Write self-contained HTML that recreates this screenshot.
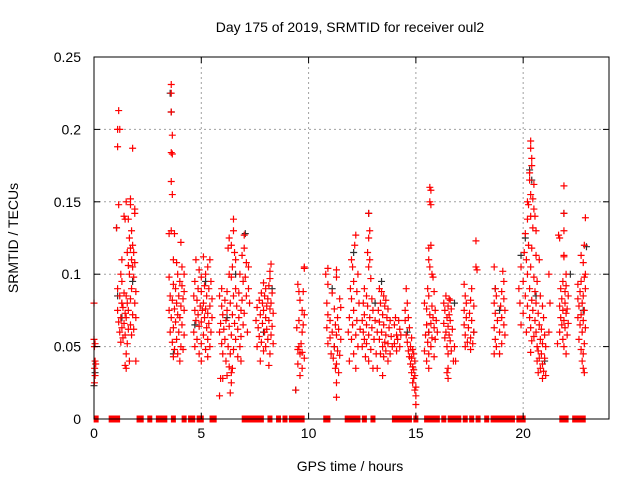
<!DOCTYPE html>
<html><head><meta charset="utf-8"><style>
body{margin:0;background:#fff;}
svg{display:block;font-family:"Liberation Sans",sans-serif;}
</style></head><body>
<svg id="chart" width="640" height="480">
<rect width="640" height="480" fill="#fff"/>
<g id="grid"></g>
<g id="pts"></g>
<rect x="94" y="57" width="515" height="362" fill="none" stroke="#000" stroke-width="1"/>
<g id="axes"></g>
<text x="350" y="32" text-anchor="middle" font-size="14">Day 175 of 2019, SRMTID for receiver oul2</text>
<text x="350" y="471" text-anchor="middle" font-size="14">GPS time / hours</text>
<text x="18" y="238" text-anchor="middle" font-size="14" transform="rotate(-90 18 238)">SRMTID / TECUs</text>
</svg>
<script>
const xTicks=[0,5,10,15,20];
const yTicks=[0,0.05,0.1,0.15,0.2,0.25];
const yTickLabels=["0","0.05","0.1","0.15","0.2","0.25"];
const zeroTimes=[0.1,0.8,0.9,1.0,1.1,2.1,2.2,2.6,3.0,3.2,3.3,3.7,4.2,4.5,4.6,4.9,5.0,5.5,5.6,7.0,7.1,7.3,7.5,7.7,7.8,8.2,8.6,8.9,9.2,9.4,9.6,9.7,10.8,10.9,11.8,11.9,12.0,12.1,12.3,12.6,13.0,14.0,14.1,14.3,14.4,14.5,14.7,15.0,15.5,15.6,15.7,15.8,16.0,16.3,16.6,16.8,17.0,17.3,17.6,17.9,18.3,18.6,18.8,19.0,19.2,19.4,19.5,19.8,20.0,21.8,21.9,22.0,22.4,22.6,22.7,22.8];
const blackPoints=[[0,0.023],[0.05,0.032],[1.05,0.132],[1.1,0.085],[1.3,0.07],[1.8,0.095],[3.55,0.225],[3.6,0.212],[3.7,0.045],[4.7,0.065],[5.2,0.095],[6.2,0.07],[6.6,0.1],[7.05,0.128],[7.9,0.06],[8.3,0.09],[9.4,0.02],[11.2,0.05],[11.1,0.09],[12.1,0.115],[12.8,0.142],[13.4,0.095],[13.1,0.08],[14.6,0.06],[15.6,0.06],[16.8,0.08],[17.7,0.06],[18.7,0.09],[18.9,0.075],[20.3,0.172],[20.4,0.165],[20.1,0.125],[20.6,0.085],[21.0,0.04],[21.9,0.142],[22.2,0.1],[22.95,0.119],[22.8,0.075],[19.9,0.113]];
const redPoints=[
[0,0.08],[0,0.055],[0.05,0.052],[0.02,0.05],[0.05,0.04],[0.08,0.038],[0.03,0.035],[0.05,0.03],[0.02,0.025],
[1.15,0.213],[1.1,0.2],[1.2,0.2],[1.1,0.188],[1.8,0.187],[1.15,0.148],[1.05,0.132],[1.5,0.15],[1.7,0.152],[1.7,0.148],[1.9,0.145],[1.9,0.142],[1.4,0.14],[1.45,0.138],[1.6,0.138],[1.75,0.13],[1.65,0.125],[1.8,0.12],[1.7,0.118],[1.85,0.115],[1.55,0.115],[1.3,0.11],[1.75,0.11],[1.9,0.108],[1.6,0.106],[1.8,0.105],[1.25,0.1],[1.65,0.1],[1.85,0.098],[1.3,0.095],[1.1,0.09],[1.75,0.09],[1.95,0.088],[1.4,0.087],[1.2,0.085],[1.5,0.085],[1.7,0.083],[1.3,0.08],[1.55,0.08],[1.9,0.08],[1.35,0.077],[1.1,0.075],[1.6,0.075],[1.45,0.073],[1.8,0.072],[1.25,0.07],[1.5,0.07],[1.95,0.07],[1.15,0.067],[1.4,0.066],[1.7,0.065],[1.3,0.063],[1.6,0.062],[1.85,0.062],[1.2,0.06],[1.45,0.058],[1.75,0.058],[1.35,0.056],[1.25,0.053],[1.55,0.052],[1.5,0.045],[1.65,0.04],[1.45,0.037],[1.5,0.035],[1.95,0.04],[1.3,0.08],
[3.6,0.231],[3.6,0.225],[3.6,0.212],[3.65,0.196],[3.6,0.184],[3.65,0.183],[3.6,0.164],[3.65,0.155],[3.6,0.13],[3.5,0.128],[3.75,0.128],[4.05,0.122],[3.7,0.11],[3.85,0.108],[4.1,0.105],[3.9,0.1],[4.2,0.1],[3.5,0.098],[4.0,0.095],[3.7,0.093],[4.1,0.092],[3.8,0.09],[4.2,0.088],[3.55,0.085],[3.95,0.085],[4.15,0.083],[3.65,0.082],[3.85,0.08],[4.05,0.078],[3.75,0.076],[3.5,0.075],[4.2,0.075],[3.9,0.072],[3.6,0.07],[4.0,0.07],[3.8,0.067],[4.1,0.065],[3.7,0.063],[3.55,0.06],[3.95,0.06],[4.2,0.058],[3.85,0.055],[3.65,0.053],[4.05,0.05],[3.75,0.048],[4.15,0.048],[3.9,0.045],[4.0,0.04],[3.7,0.043],
[4.75,0.11],[5.1,0.112],[5.4,0.11],[5.3,0.105],[4.9,0.103],[5.2,0.1],[5.0,0.098],[4.7,0.095],[5.45,0.095],[5.15,0.092],[4.85,0.09],[5.35,0.09],[5.0,0.088],[4.65,0.085],[5.25,0.085],[5.5,0.083],[4.8,0.082],[5.1,0.08],[4.95,0.078],[5.4,0.078],[5.2,0.076],[4.7,0.075],[5.05,0.075],[5.3,0.073],[4.85,0.072],[5.5,0.07],[5.15,0.07],[4.75,0.068],[5.0,0.067],[5.35,0.066],[4.9,0.064],[5.25,0.063],[4.65,0.06],[5.45,0.06],[5.1,0.058],[4.8,0.055],[5.3,0.055],[5.0,0.052],[4.7,0.05],[5.4,0.05],[5.2,0.048],[4.9,0.045],[5.3,0.043],[5.0,0.04],
[6.5,0.138],[6.5,0.13],[7.0,0.127],[6.3,0.125],[6.4,0.12],[6.25,0.118],[7.0,0.118],[6.55,0.115],[6.9,0.113],[6.6,0.11],[7.1,0.108],[6.45,0.105],[7.2,0.105],[6.3,0.1],[6.8,0.1],[7.05,0.098],[6.4,0.098],[6.95,0.095],[5.95,0.09],[6.6,0.09],[7.2,0.09],[6.2,0.088],[6.75,0.087],[5.85,0.085],[6.5,0.085],[7.1,0.085],[6.1,0.082],[6.9,0.082],[6.35,0.08],[7.25,0.08],[5.95,0.078],[6.65,0.078],[6.2,0.075],[6.85,0.075],[7.0,0.073],[6.0,0.072],[6.45,0.072],[6.75,0.07],[6.15,0.068],[5.9,0.066],[6.55,0.066],[6.95,0.065],[6.3,0.064],[6.05,0.062],[6.7,0.062],[7.15,0.06],[5.85,0.06],[6.4,0.058],[6.85,0.057],[6.1,0.055],[6.6,0.055],[5.95,0.052],[6.25,0.05],[6.8,0.05],[6.5,0.048],[6.0,0.045],[6.35,0.045],[6.7,0.043],[6.15,0.04],[6.85,0.04],[6.3,0.036],[6.45,0.035],[6.4,0.032],[6.2,0.03],[5.9,0.028],[6.0,0.028],[6.4,0.025],[5.85,0.016],[6.35,0.018],
[8.25,0.107],[8.2,0.102],[8.2,0.097],[7.9,0.094],[8.15,0.092],[8.0,0.09],[7.8,0.087],[8.3,0.087],[7.95,0.085],[8.1,0.083],[7.7,0.082],[8.25,0.08],[7.85,0.08],[8.05,0.078],[7.6,0.077],[8.2,0.076],[7.9,0.075],[8.35,0.073],[7.75,0.072],[8.0,0.07],[7.55,0.068],[8.15,0.068],[7.85,0.066],[8.3,0.064],[7.65,0.063],[8.05,0.062],[7.95,0.06],[8.25,0.058],[7.7,0.057],[8.1,0.055],[7.8,0.053],[8.35,0.052],[7.6,0.05],[8.0,0.05],[7.9,0.047],[8.2,0.045],[7.75,0.04],[8.15,0.037],
[9.8,0.105],[9.8,0.104],[9.5,0.093],[9.75,0.088],[9.55,0.088],[9.6,0.082],[9.7,0.075],[9.8,0.072],[9.55,0.068],[9.75,0.065],[9.45,0.063],[9.7,0.06],[9.55,0.05],[9.65,0.052],[9.5,0.048],[9.7,0.046],[9.6,0.045],[9.8,0.042],[9.5,0.038],[9.7,0.035],[9.6,0.03],[9.4,0.02],
[10.9,0.104],[11.3,0.103],[10.8,0.1],[11.3,0.098],[10.9,0.093],[11.1,0.087],[11.45,0.083],[10.85,0.08],[11.5,0.077],[11.2,0.076],[10.9,0.072],[11.35,0.07],[11.0,0.068],[11.25,0.065],[10.85,0.063],[11.4,0.062],[11.1,0.06],[11.3,0.058],[11.0,0.056],[11.5,0.055],[10.9,0.052],[11.2,0.05],[11.35,0.047],[11.05,0.045],[11.45,0.044],[11.15,0.042],[11.3,0.038],[11.25,0.035],[11.4,0.032],[11.3,0.025],[11.3,0.015],
[12.0,0.11],[12.05,0.105],[12.15,0.12],[12.2,0.127],[12.3,0.1],[12.1,0.095],[11.95,0.09],[12.25,0.088],[12.0,0.083],[12.35,0.08],[12.1,0.075],[11.9,0.07],[12.25,0.068],[12.05,0.065],[12.4,0.062],[11.85,0.06],[12.2,0.058],[12.0,0.055],[12.3,0.05],[12.1,0.045],[11.9,0.04],[12.2,0.035],
[12.8,0.142],[12.85,0.13],[12.8,0.125],[12.75,0.115],[12.85,0.11],[12.8,0.105],[12.9,0.097],[12.6,0.09],[12.7,0.085],[12.95,0.083],[12.55,0.08],[12.75,0.078],[13.0,0.075],[12.6,0.072],[12.85,0.07],[12.5,0.068],[13.1,0.068],[12.7,0.065],[12.95,0.063],[12.55,0.06],[13.2,0.06],[12.8,0.058],[12.6,0.055],[13.05,0.055],[12.7,0.052],[12.5,0.05],[12.9,0.048],[13.15,0.045],[12.65,0.043],[12.8,0.04],[13.0,0.035],
[13.3,0.09],[13.4,0.088],[13.5,0.085],[13.6,0.082],[13.35,0.08],[13.55,0.078],[13.7,0.076],[13.25,0.075],[13.45,0.072],[13.65,0.07],[13.8,0.068],[13.3,0.067],[13.5,0.065],[13.75,0.063],[13.4,0.06],[13.6,0.058],[13.85,0.057],[13.3,0.055],[13.55,0.053],[13.7,0.052],[13.45,0.05],[13.9,0.05],[13.6,0.047],[13.35,0.045],[13.8,0.045],[13.5,0.043],[13.7,0.04],[13.2,0.035],[13.45,0.03],
[14.05,0.07],[14.2,0.068],[14.0,0.065],[14.25,0.062],[14.1,0.058],[14.3,0.058],[14.15,0.055],[14.0,0.052],[14.25,0.05],[14.1,0.047],
[14.55,0.09],[14.6,0.08],[14.5,0.075],[14.65,0.07],[14.5,0.068],[14.7,0.063],[14.55,0.058],[14.8,0.056],[14.6,0.053],[14.75,0.05],[14.85,0.048],[14.65,0.047],[14.9,0.045],[14.7,0.043],[14.8,0.042],[14.95,0.04],[14.75,0.038],[14.85,0.036],[14.9,0.034],[14.8,0.032],[14.95,0.03],[14.9,0.028],[14.85,0.025],[15.0,0.022],[14.95,0.02],[15.0,0.016],[15.0,0.01],
[15.65,0.16],[15.7,0.158],[15.65,0.15],[15.7,0.148],[15.7,0.12],[15.6,0.118],[15.6,0.11],[15.65,0.105],[15.75,0.1],[15.8,0.098],[15.55,0.09],[15.85,0.088],[15.6,0.085],[15.4,0.08],[15.75,0.078],[15.5,0.076],[15.9,0.075],[15.65,0.072],[15.8,0.07],[15.95,0.068],[15.7,0.066],[15.5,0.065],[15.85,0.063],[15.6,0.06],[16.0,0.06],[15.45,0.058],[15.75,0.056],[15.9,0.055],[15.55,0.053],[15.7,0.05],[15.4,0.047],[15.6,0.045],[15.85,0.043],[15.5,0.04],[15.6,0.035],
[16.4,0.085],[16.55,0.083],[16.6,0.082],[16.3,0.08],[16.5,0.078],[16.65,0.076],[16.35,0.075],[16.55,0.072],[16.45,0.07],[16.6,0.068],[16.3,0.066],[16.5,0.064],[16.7,0.062],[16.4,0.06],[16.55,0.058],[16.35,0.056],[16.6,0.054],[16.45,0.05],[16.8,0.05],[16.65,0.047],[16.5,0.045],[16.75,0.04],[16.85,0.04],[16.5,0.035],[16.45,0.032],[16.5,0.028],
[17.8,0.123],[17.8,0.105],[17.85,0.103],[17.25,0.093],[17.6,0.09],[17.3,0.085],[17.55,0.082],[17.35,0.08],[17.7,0.078],[17.25,0.075],[17.5,0.073],[17.35,0.07],[17.6,0.068],[17.25,0.065],[17.45,0.063],[17.7,0.06],[17.3,0.058],[17.55,0.056],[17.4,0.053],[17.65,0.052],[17.3,0.05],[17.55,0.048],
[19.05,0.102],[18.65,0.105],[19.1,0.095],[18.7,0.09],[19.0,0.088],[18.75,0.085],[19.1,0.083],[18.65,0.08],[18.95,0.078],[19.15,0.075],[18.7,0.073],[19.0,0.07],[18.8,0.068],[19.1,0.065],[18.65,0.063],[18.9,0.06],[19.15,0.058],[18.7,0.055],[19.0,0.052],[18.75,0.05],[18.65,0.045],[18.9,0.045],
[20.35,0.192],[20.35,0.187],[20.4,0.18],[20.4,0.175],[20.3,0.17],[20.3,0.165],[20.5,0.162],[20.35,0.155],[20.45,0.152],[20.2,0.15],[20.25,0.148],[20.5,0.145],[20.35,0.14],[20.55,0.14],[20.2,0.138],[20.1,0.128],[20.45,0.132],[20.6,0.13],[20.25,0.12],[20.4,0.118],[20.05,0.115],[20.6,0.113],[20.15,0.11],[20.35,0.105],[20.75,0.11],[19.9,0.105],[20.2,0.1],[20.5,0.098],[20.0,0.095],[20.65,0.095],[20.3,0.09],[19.8,0.09],[20.55,0.088],[20.1,0.085],[20.8,0.085],[20.4,0.082],[19.85,0.08],[20.6,0.08],[20.2,0.078],[20.9,0.078],[20.45,0.075],[20.0,0.073],[20.7,0.073],[20.3,0.07],[20.95,0.07],[20.55,0.068],[19.9,0.065],[20.75,0.065],[20.35,0.063],[20.85,0.062],[20.6,0.06],[20.15,0.06],[21.0,0.058],[20.5,0.057],[20.8,0.055],[20.4,0.054],[20.9,0.052],[20.65,0.05],[21.05,0.05],[20.7,0.047],[20.35,0.046],[20.85,0.045],[20.75,0.042],[21.0,0.042],[20.65,0.04],[20.9,0.038],[20.8,0.035],[20.95,0.033],[20.7,0.032],[21.05,0.03],[20.9,0.028],[21.2,0.1],[21.25,0.08],[21.2,0.06],
[21.9,0.161],[21.9,0.142],[21.9,0.13],[21.9,0.113],[21.9,0.112],[21.7,0.125],[21.65,0.127],[22.0,0.1],[21.85,0.095],[22.0,0.092],[21.75,0.09],[21.95,0.088],[22.1,0.085],[21.8,0.083],[21.95,0.08],[21.7,0.078],[22.05,0.076],[21.85,0.075],[22.0,0.073],[21.75,0.07],[21.9,0.068],[22.1,0.066],[21.8,0.065],[21.95,0.063],[21.7,0.06],[22.05,0.058],[21.85,0.055],[21.6,0.052],[21.9,0.05],[22.0,0.045],
[22.9,0.139],[22.85,0.12],[22.7,0.113],[22.8,0.108],[22.9,0.1],[22.85,0.098],[22.7,0.095],[22.55,0.093],[22.9,0.09],[22.65,0.088],[22.8,0.085],[22.55,0.083],[22.75,0.08],[22.6,0.078],[22.85,0.075],[22.7,0.072],[22.55,0.07],[22.8,0.068],[22.65,0.065],[22.9,0.063],[22.75,0.06],[22.6,0.055],[22.85,0.052],[22.7,0.048],[22.8,0.045],[22.75,0.04],[22.8,0.035],[22.85,0.032]
];
const NS='http://www.w3.org/2000/svg';
const X0=94,X1=609,Y0=419,Y1=57,XMAX=24,YMAX=0.25;
function xs(t){return X0+(X1-X0)*t/XMAX;}
function ys(v){return Y0-(Y0-Y1)*v/YMAX;}
function mk(tag,attrs,parent){const e=document.createElementNS(NS,tag);for(const k in attrs)e.setAttribute(k,attrs[k]);parent.appendChild(e);return e;}
const grid=document.getElementById('grid'),axes=document.getElementById('axes'),pts=document.getElementById('pts');
xTicks.forEach(t=>{
  const x=xs(t);
  if(t>0){const g=mk('line',{x1:x,x2:x,y1:Y1,y2:Y0,stroke:'#a0a0a0','stroke-dasharray':'2,3'},grid);
  
  }
  mk('line',{x1:x,x2:x,y1:Y0,y2:Y0-6,stroke:'#000'},axes);
  mk('line',{x1:x,x2:x,y1:Y1,y2:Y1+6,stroke:'#000'},axes);
  const l=mk('text',{x:x,y:Y0+19,'text-anchor':'middle','font-size':14},axes);
  l.textContent=t;
  
  
});
yTicks.forEach((v,i)=>{
  const y=ys(v);
  if(v>0&&v<YMAX){const g=mk('line',{x1:X0,x2:X1,y1:y,y2:y,stroke:'#a0a0a0','stroke-dasharray':'2,3'},grid);
  
  }
  mk('line',{x1:X0,x2:X0+6,y1:y,y2:y,stroke:'#000'},axes);
  mk('line',{x1:X1,x2:X1-6,y1:y,y2:y,stroke:'#000'},axes);
  const l=mk('text',{x:X0-13,y:y+5,'text-anchor':'end','font-size':14},axes);
  l.textContent=yTickLabels[i];
  
  
});
function plus(t,v,color,name){
  const x=xs(t),y=ys(v);
  const p=mk('path',{d:`M${x-3.5},${y}H${x+3.5}M${x},${y-3.5}V${y+3.5}`,stroke:color,'stroke-width':1.2,fill:'none'},pts);
  
  
}
blackPoints.forEach(d=>plus(d[0],d[1],'#303030','black-point'));
redPoints.forEach(d=>plus(d[0],d[1],'#ff0000','red-point'));
zeroTimes.forEach(t=>{
  const x=xs(t);
  const r=mk('rect',{x:x-2.5,y:Y0-3.5,width:5,height:7,fill:'#ff0000'},pts);
  
  
});
</script>
</body></html>
